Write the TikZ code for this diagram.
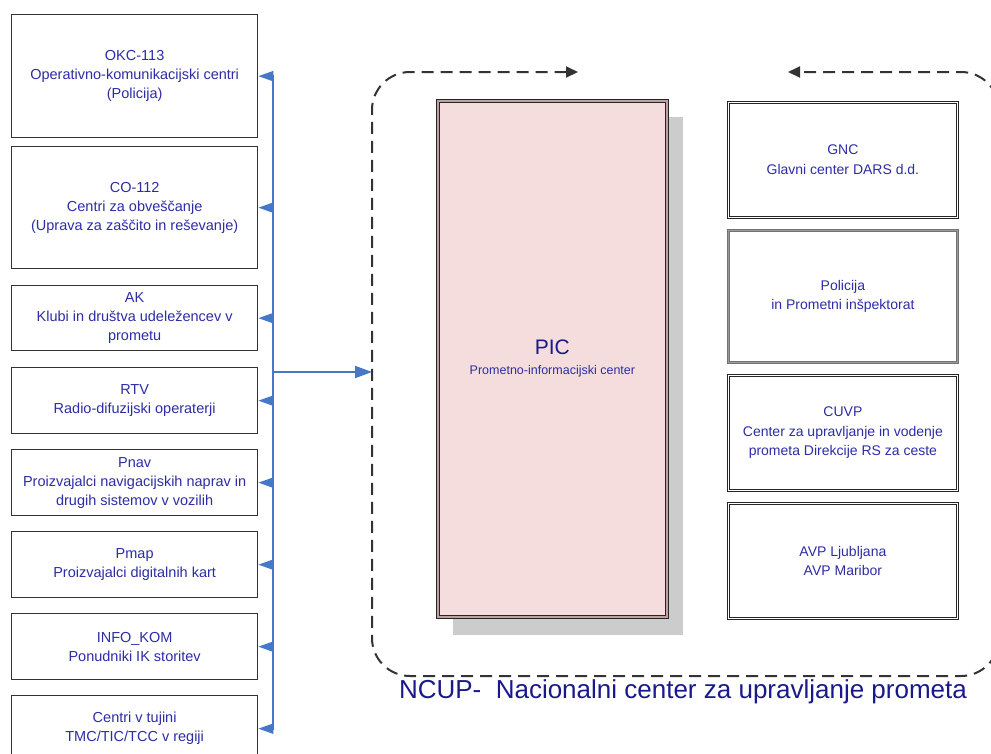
\documentclass[tikz,border=0pt]{standalone}
\usepackage{fontspec}
\setmainfont{Liberation Sans}
\usetikzlibrary{arrows.meta}
\definecolor{txtblue}{RGB}{45,45,165}
\definecolor{navy}{RGB}{25,25,140}
\definecolor{busblue}{RGB}{70,120,200}
\definecolor{picpink}{RGB}{245,221,222}
\definecolor{picedge}{RGB}{190,160,160}
\begin{document}
\begin{tikzpicture}[x=1pt,y=-1pt,
  leftbox/.style={draw=black!80, line width=1.3pt, fill=white, minimum width=246pt,
    anchor=north west, align=center, text=txtblue, inner sep=0pt,
    font=\fontsize{14.5}{19}\selectfont},
  rightbox/.style={draw=black!85, line width=0.8pt, double=white, double distance=1.8pt,
    fill=white, minimum width=229pt, minimum height=115pt, anchor=north west,
    align=center, text=txtblue, inner sep=0pt, font=\fontsize{14}{19.5}\selectfont},
  greybox/.style={rightbox, draw=black!55, double=black!40},
  busline/.style={draw=busblue, line width=2pt},
  busarrow/.style={busline, -{Triangle[length=15pt,width=10pt]}},
  frame/.style={draw=black!80, line width=2pt, dash pattern=on 12pt off 7pt,
    rounded corners=38pt, {Triangle[length=12pt,width=11pt]}-{Triangle[length=12pt,width=11pt]}}
]
\useasboundingbox (0,0) rectangle (991,753);

% left boxes
\node[leftbox, minimum height=123pt] (b1) at (11,14) {OKC-113\\Operativno-komunikacijski centri\\(Policija)};
\node[leftbox, minimum height=122pt] (b2) at (11,146) {CO-112\\Centri za obveščanje\\(Uprava za zaščito in reševanje)};
\node[leftbox, minimum height=65pt] (b3) at (11,285) {AK\\Klubi in društva udeležencev v\\prometu};
\node[leftbox, minimum height=66pt] (b4) at (11,367) {RTV\\Radio-difuzijski operaterji};
\node[leftbox, minimum height=66pt] (b5) at (11,449) {Pnav\\Proizvajalci navigacijskih naprav in\\drugih sistemov v vozilih};
\node[leftbox, minimum height=66pt] (b6) at (11,531) {Pmap\\Proizvajalci digitalnih kart};
\node[leftbox, minimum height=66pt] (b7) at (11,613) {INFO\_KOM\\Ponudniki IK storitev};
\node[leftbox, minimum height=66pt] (b8) at (11,695) {Centri v tujini\\TMC/TIC/TCC v regiji};

% bus
\coordinate (bus) at (273,0);
\coordinate (frameW) at (372,372);
\draw[busline] (bus |- b1.east) -- (bus |- b8.east);
\foreach \b in {b1,b2,b3,b4,b5,b6,b7,b8}
  \draw[busarrow] (bus |- \b.east) -- (\b.east);
\draw[busline, -{Triangle[length=17pt,width=12pt]}] (bus |- frameW) -- (frameW);

% NCUP frame
\coordinate (fa) at (578,72);
\coordinate (fb) at (788,72);
\draw[frame] (fa) -- (372,72) -- (372,676) -- (999,676) -- (999,72) -- (fb);
\node[text=navy, font=\fontsize{26}{28}\selectfont, anchor=center] (ncup) at (683,692)
  {NCUP-\ \ Nacionalni center za upravljanje prometa};

% PIC
\fill[black!20] (453,117) rectangle (683,635);
\node[draw=black!85, line width=0.8pt, double=picedge, double distance=2pt, fill=picpink,
  minimum width=229pt, minimum height=516pt, anchor=north west, inner sep=0pt,
  align=center, text=txtblue, font=\fontsize{12.5}{16}\selectfont] (pic) at (437.5,100.5)
  {\textcolor{navy}{\fontsize{21}{25}\selectfont PIC}\\[4pt]
   Prometno-informacijski center};

% right boxes
\node[rightbox] (gnc) at (728,102) {GNC\\Glavni center DARS d.d.};
\node[greybox, minimum height=132pt] (pol) at (728,230) {Policija\\in Prometni inšpektorat};
\node[rightbox] (cuvp) at (728,375) {CUVP\\Center za upravljanje in vodenje\\prometa Direkcije RS za ceste};
\node[rightbox] (avp) at (728,503) {AVP Ljubljana\\AVP Maribor};
\end{tikzpicture}
\end{document}
